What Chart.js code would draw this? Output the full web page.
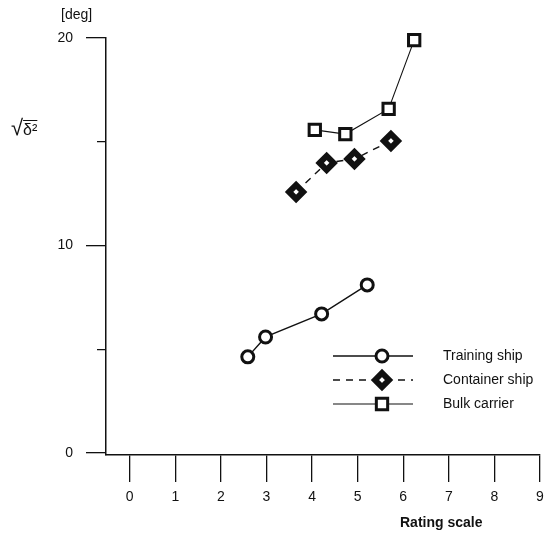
<!DOCTYPE html>
<html>
<head>
<meta charset="utf-8">
<script src="https://cdn.jsdelivr.net/npm/chart.js"></script>
<style>
  html, body { margin: 0; padding: 0; background: #fff; }
  #wrap { position: relative; width: 553px; height: 553px; }
  .lbl { position: absolute; font-family: 'Liberation Sans', Arial, sans-serif; color: #111; font-size: 14px; line-height: 1; white-space: nowrap; }
</style>
</head>
<body>
<div id="wrap">
  <canvas id="chart" width="553" height="553"></canvas>
  <div class="lbl" style="left:61px;top:7px;">[deg]</div>
  <div class="lbl" style="left:11px;top:117px;font-size:22px;">√<span style="text-decoration:overline;font-size:16px;">δ²</span></div>
  <div class="lbl" style="left:400px;top:515px;font-weight:bold;">Rating scale</div>
</div>
<script>
const FONT = "'Liberation Sans', Arial, sans-serif";

// ----------------- Data -----------------
const seriesNames = ['Training ship', 'Container ship', 'Bulk carrier'];
const trainingX = [2.59, 2.98, 4.21, 5.21];
const trainingY = [4.63, 5.59, 6.70, 8.10];
const containerX = [3.65, 4.32, 4.93, 5.73];
const containerY = [12.58, 13.98, 14.17, 15.04];
const bulkX = [4.06, 4.73, 5.68, 6.24];
const bulkY = [15.57, 15.37, 16.58, 19.90];
const xTickLabels = [0, 1, 2, 3, 4, 5, 6, 7, 8, 9];
const yTickLabels = [0, 10, 20];

const pts = (xs, ys) => xs.map((x, i) => ({ x, y: ys[i] }));

// legend drawn as line + marker, like the original figure
const lineLegend = {
  id: 'lineLegend',
  afterDatasetsDraw(chart) {
    const ctx = chart.ctx;
    chart.data.datasets.forEach((ds, i) => {
      const y = 356 + i * 24;
      ctx.save();
      ctx.strokeStyle = ds.borderColor;
      ctx.lineWidth = ds.borderWidth;
      ctx.setLineDash(ds.borderDash || []);
      ctx.beginPath();
      ctx.moveTo(333, y);
      ctx.lineTo(413, y);
      ctx.stroke();
      ctx.setLineDash([]);
      ctx.fillStyle = ds.pointBackgroundColor;
      ctx.strokeStyle = ds.pointBorderColor;
      ctx.lineWidth = ds.pointBorderWidth;
      Chart.helpers.drawPoint(ctx, { pointStyle: ds.pointStyle, radius: ds.pointRadius, rotation: 0, borderWidth: ds.pointBorderWidth }, 382, y);
      ctx.fillStyle = '#111';
      ctx.font = '14px ' + FONT;
      ctx.textBaseline = 'middle';
      ctx.textAlign = 'left';
      ctx.fillText(ds.label, 443, y);
      ctx.restore();
    });
  }
};

new Chart(document.getElementById('chart'), {
  type: 'scatter',
  data: {
    datasets: [
      { label: seriesNames[0], data: pts(trainingX, trainingY), showLine: true, clip: false,
        borderColor: '#111', borderWidth: 1.4, pointStyle: 'circle', pointRadius: 6,
        pointBorderWidth: 3, pointBackgroundColor: '#fff', pointBorderColor: '#111' },
      { label: seriesNames[1], data: pts(containerX, containerY), showLine: true, clip: false,
        borderColor: '#111', borderWidth: 1.4, borderDash: [7, 6], pointStyle: 'rectRot', pointRadius: 7,
        pointBorderWidth: 6, pointBackgroundColor: '#fff', pointBorderColor: '#111' },
      { label: seriesNames[2], data: pts(bulkX, bulkY), showLine: true, clip: false,
        borderColor: '#111', borderWidth: 1.1, pointStyle: 'rect', pointRadius: 8,
        pointBorderWidth: 3, pointBackgroundColor: '#fff', pointBorderColor: '#111' }
    ]
  },
  options: {
    responsive: false,
    animation: false,
    layout: { padding: { top: 38, right: 5, left: 0, bottom: 0 } },
    plugins: { legend: { display: false }, tooltip: { enabled: false } },
    scales: {
      x: {
        type: 'linear', min: -0.52, max: 9,
        ticks: { stepSize: 1, includeBounds: false, padding: 7, color: '#111',
          font: { family: FONT, size: 14 },
          callback: v => xTickLabels.includes(v) ? String(v) : '' },
        grid: { drawOnChartArea: false, tickLength: 27, color: '#111', lineWidth: 1.3 },
        border: { color: '#111', width: 1.5, dash: [0, 24, 2000] },
        afterFit: s => { s.height = 98; }
      },
      y: {
        type: 'linear', min: -0.1, max: 20,
        ticks: { stepSize: 5, includeBounds: false, padding: 13, color: '#111',
          font: { family: FONT, size: 14 },
          callback: v => yTickLabels.includes(v) ? String(v) : '' },
        grid: { drawOnChartArea: false, tickLength: 20, color: '#111', lineWidth: 1.3,
          tickBorderDash: c => yTickLabels.includes(c.tick.value) ? [] : [0, 11, 20] },
        border: { color: '#111', width: 1.5 },
        afterFit: s => { s.width = 106; }
      }
    }
  },
  plugins: [lineLegend]
});
</script>
</body>
</html>
